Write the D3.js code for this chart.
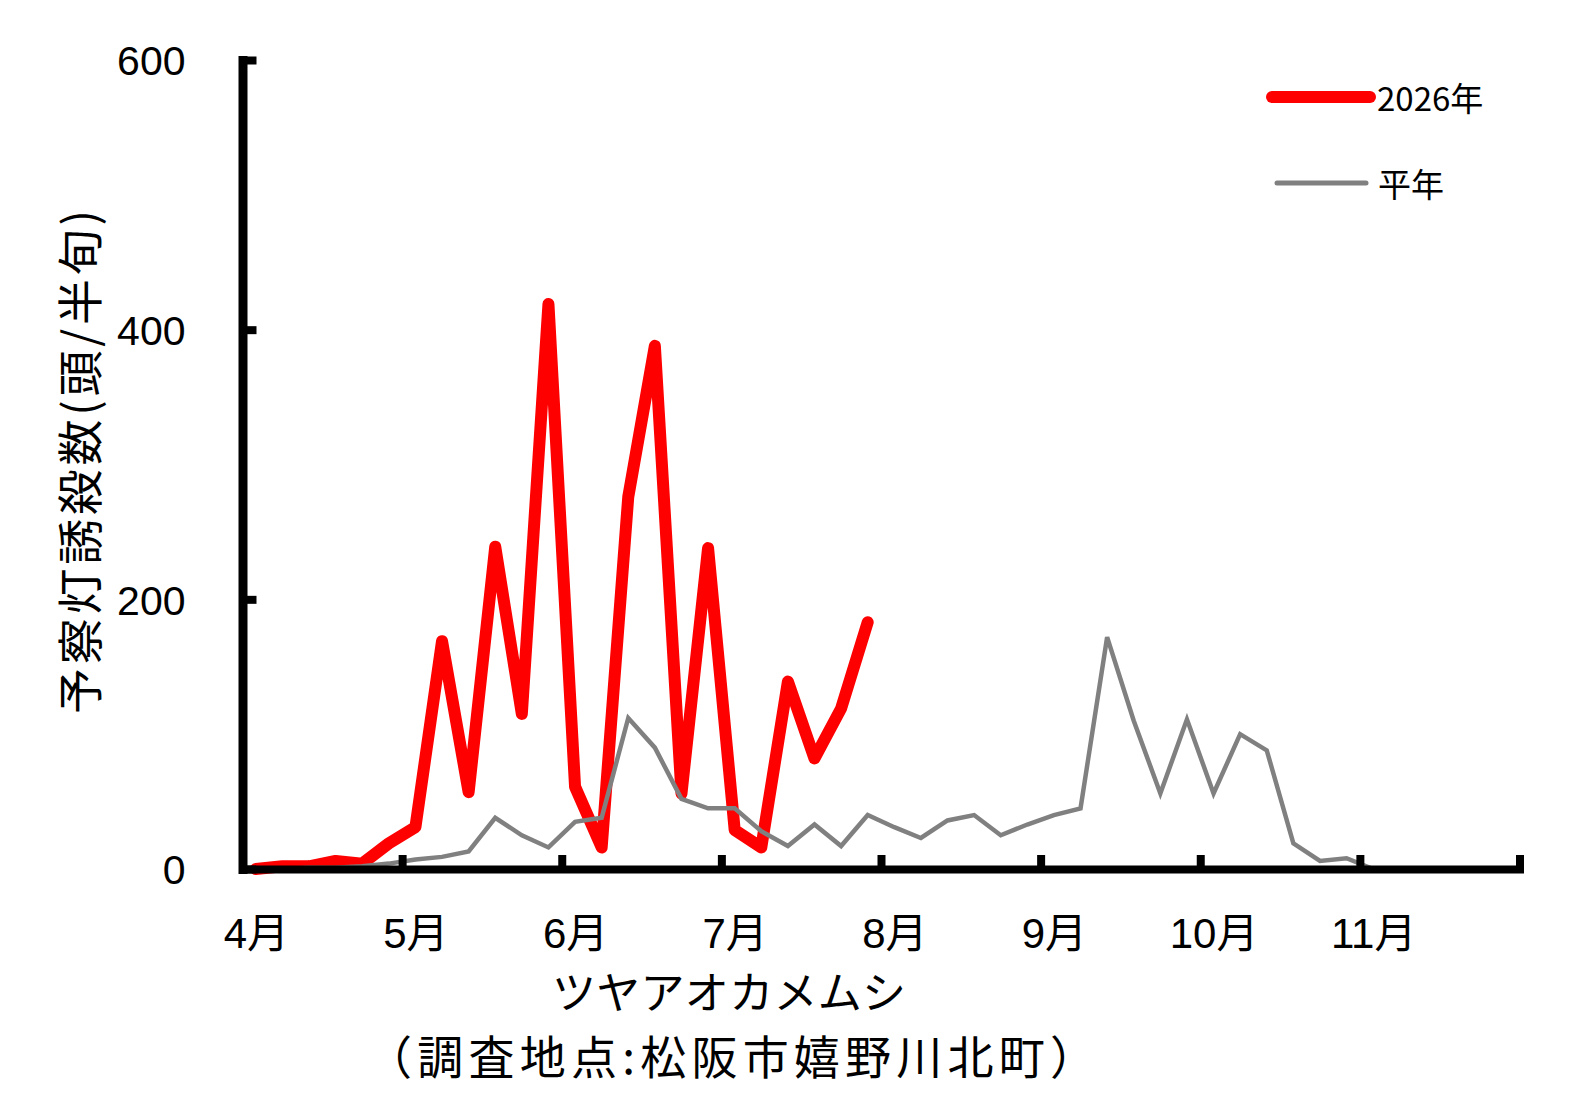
<!DOCTYPE html>
<html>
<head>
<meta charset="utf-8">
<script src="https://cdn.jsdelivr.net/npm/d3@7"></script>
<style>
  body { margin: 0; background: #fff; }
  svg { display: block; }
  text { font-family: "Liberation Sans", "Noto Sans CJK JP", sans-serif; fill: #000; }
  .jp { font-family: "Noto Sans CJK JP", sans-serif; }
</style>
</head>
<body>
<svg width="1581" height="1117"></svg>
<script>
// 半旬 (5-day periods), 6 per month, April to November
var monthLabels = ["4月", "5月", "6月", "7月", "8月", "9月", "10月", "11月"];
var yTicks = [0, 200, 400, 600];

// 2026年 (up to late July)
var thisYear = [0, 2, 2, 6, 4, 19,
                31, 169, 57, 239, 115, 419,
                61, 16, 276, 388, 56, 238,
                29, 16, 139, 82, 119, 183];

// 平年
var normalYear = [0, 0, 1, 1, 2, 4,
                  7, 9, 13, 38, 25, 16,
                  35, 38, 112, 90, 52, 45,
                  45, 28, 17, 33, 17, 40,
                  31, 23, 36, 40, 25, 33,
                  40, 45, 172, 110, 56, 111,
                  56, 100, 88, 19, 6, 8,
                  0, 0, 0, 0, 0, 0];

var seriesNames = ["2026年", "平年"];

function drawChart() {
    var svg = d3.select("svg");
    var periods = monthLabels.length * 6;

    var x = d3.scaleLinear().domain([0, periods]).range([242.5, 1519.5]);
    var y = d3.scaleLinear().domain([0, 600]).range([869, 60]);

    var line = d3.line()
        .x(function(d, i) { return x(i + 0.5); })
        .y(function(d) { return y(d); });

    // data lines (red first, grey drawn over it)
    svg.append("path")
        .datum(thisYear)
        .attr("d", line)
        .attr("fill", "none")
        .attr("stroke", "#ff0000")
        .attr("stroke-width", 12)
        .attr("stroke-linejoin", "round")
        .attr("stroke-linecap", "round");

    svg.append("path")
        .datum(normalYear)
        .attr("d", line)
        .attr("fill", "none")
        .attr("stroke", "#808080")
        .attr("stroke-width", 4.5)
        .attr("stroke-linejoin", "miter");

    // y axis
    var yAxis = svg.append("g")
        .attr("transform", "translate(" + x(0) + ",0)")
        .call(d3.axisLeft(y)
            .tickValues(yTicks)
            .tickSizeInner(-14)
            .tickSizeOuter(0)
            .tickPadding(57));
    yAxis.select(".domain").attr("stroke", "#000").attr("stroke-width", 9).attr("stroke-linecap", "square");
    yAxis.selectAll(".tick line").attr("stroke", "#000").attr("stroke-width", 8);
    yAxis.selectAll(".tick text")
        .attr("dy", "0.36em")
        .style("font-size", "41px")
        .style("font-family", "Liberation Sans, Arial, sans-serif");

    // x axis: ticks at month boundaries
    var xAxis = svg.append("g")
        .attr("transform", "translate(0," + y(0) + ")")
        .call(d3.axisBottom(x)
            .tickValues(d3.range(0, periods + 1, 6))
            .tickSizeInner(-14)
            .tickSizeOuter(0)
            .tickFormat(""));
    xAxis.select(".domain").attr("stroke", "#000").attr("stroke-width", 8).attr("stroke-linecap", "square");
    xAxis.selectAll(".tick line").attr("stroke", "#000").attr("stroke-width", 8);

    // month labels on the first 半旬 of each month
    var monthAxis = svg.append("g")
        .attr("transform", "translate(0," + y(0) + ")")
        .call(d3.axisBottom(x)
            .tickValues(d3.range(0.5, periods, 6))
            .tickSize(0)
            .tickPadding(79)
            .tickFormat(function(d, i) { return monthLabels[i]; }));
    monthAxis.select(".domain").remove();
    monthAxis.selectAll(".tick text")
        .attr("dy", "0")
        .style("font-size", "42px");

    // axis titles
    svg.append("text")
        .attr("class", "jp")
        .attr("x", 729)
        .attr("y", 990)
        .attr("text-anchor", "middle")
        .attr("dominant-baseline", "central")
        .attr("textLength", 354)
        .attr("lengthAdjust", "spacing")
        .style("font-size", "44px")
        .text("ツヤアオカメムシ");

    svg.append("text")
        .attr("class", "jp")
        .attr("x", 731)
        .attr("y", 1054)
        .attr("text-anchor", "middle")
        .attr("dominant-baseline", "central")
        .attr("textLength", 730)
        .attr("lengthAdjust", "spacing")
        .style("font-size", "46px")
        .text("（調査地点:松阪市嬉野川北町）");

    svg.append("text")
        .attr("class", "jp")
        .attr("transform", "translate(77,462) rotate(-90)")
        .attr("text-anchor", "middle")
        .attr("dominant-baseline", "central")
        .attr("textLength", 504)
        .attr("lengthAdjust", "spacing")
        .style("font-size", "46px")
        .text("予察灯誘殺数(頭/半旬)");

    // legend
    var legend = svg.append("g");
    var legendRows = [
        {name: seriesNames[0], color: "#ff0000", width: 12, x1: 1272, x2: 1370, y: 97, tx: 1377},
        {name: seriesNames[1], color: "#808080", width: 5, x1: 1277, x2: 1366, y: 183, tx: 1378}
    ];
    var row = legend.selectAll(".row")
        .data(legendRows)
        .enter().append("g")
        .attr("class", "row");
    row.append("line")
        .attr("x1", function(d) { return d.x1; })
        .attr("x2", function(d) { return d.x2; })
        .attr("y1", function(d) { return d.y; })
        .attr("y2", function(d) { return d.y; })
        .attr("stroke", function(d) { return d.color; })
        .attr("stroke-width", function(d) { return d.width; })
        .attr("stroke-linecap", "round");
    row.append("text")
        .attr("class", "jp")
        .attr("x", function(d) { return d.tx; })
        .attr("y", function(d) { return d.y; })
        .attr("dominant-baseline", "central")
        .style("font-size", "33px")
        .text(function(d) { return d.name; });
}

drawChart();
</script>
</body>
</html>
